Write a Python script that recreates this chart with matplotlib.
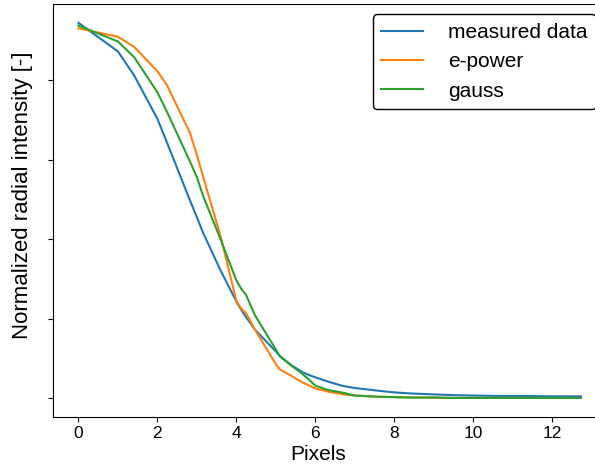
import matplotlib
matplotlib.use("Agg")
import matplotlib.pyplot as plt

plt.rcParams["font.family"] = ["Liberation Sans", "DejaVu Sans"]

# radial distance in pixels (distinct sqrt(i^2 + j^2) values)
pixels = [0, 1, 1.414, 2, 2.236, 2.828, 3, 3.162, 3.606, 4, 4.123, 4.243,
          4.472, 5, 5.099, 5.385, 5.657, 5.831, 6, 6.325, 6.708, 7, 7.616,
          8, 8.485, 9, 9.487, 10, 10.63, 11.314, 12.042, 12.728]

measured = [0.945, 0.873, 0.812, 0.703, 0.645, 0.497, 0.455, 0.415, 0.320,
            0.243, 0.222, 0.204, 0.172, 0.117, 0.106, 0.083, 0.066, 0.058,
            0.052, 0.041, 0.030, 0.025, 0.018, 0.014, 0.011, 0.009, 0.007,
            0.006, 0.005, 0.005, 0.004, 0.004]

e_power = [0.931, 0.910, 0.884, 0.823, 0.789, 0.667, 0.612, 0.556, 0.405,
           0.245, 0.225, 0.214, 0.172, 0.085, 0.072, 0.056, 0.040, 0.032,
           0.024, 0.016, 0.009, 0.006, 0.003, 0.002, 0.001, 0.001, 0.0,
           0.0, 0.0, 0.0, 0.0, 0.0]

gauss = [0.938, 0.898, 0.858, 0.770, 0.722, 0.595, 0.556, 0.508, 0.398,
         0.296, 0.275, 0.260, 0.208, 0.122, 0.105, 0.082, 0.062, 0.047,
         0.031, 0.020, 0.013, 0.006, 0.003, 0.002, 0.001, 0.001, 0.0,
         0.0, 0.0, 0.0, 0.0, 0.0]

y_ticks = [0, 0.2, 0.4, 0.6, 0.8]


def gerar_grafico():
    fig = plt.figure(figsize=(5.95, 4.7), dpi=100)
    ax = fig.add_axes([0.0896, 0.1134, 0.929, 0.878])
    ax.plot(pixels, measured, label="measured data")
    ax.plot(pixels, e_power, label="e-power")
    ax.plot(pixels, gauss, label="gauss")
    ax.set_yticks(y_ticks)
    ax.set_yticklabels([])
    ax.tick_params(labelsize=12.5)
    ax.set_xlabel("Pixels", fontsize=15)
    ax.set_ylabel("Normalized radial intensity [-]", fontsize=16)
    ax.xaxis.set_label_coords(0.479, -0.068)
    ax.yaxis.set_label_coords(-0.036, 0.537)
    ax.legend(loc="upper right", fontsize=15, edgecolor="k", framealpha=1,
              handletextpad=1.2)
    fig.savefig("out.png", dpi=100)


if __name__ == "__main__":
    gerar_grafico()
